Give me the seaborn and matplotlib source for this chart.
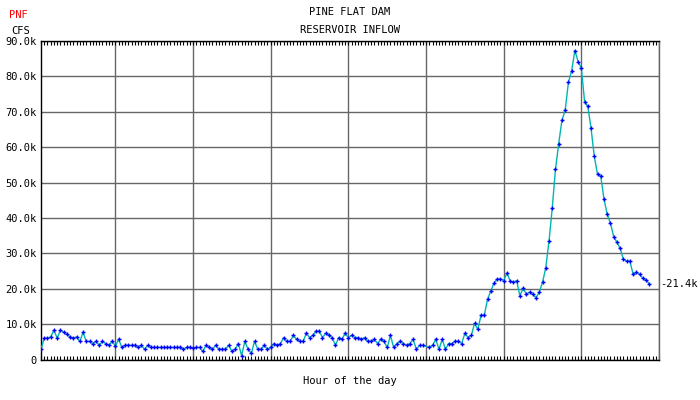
import numpy as np
import pandas as pd
import matplotlib
matplotlib.use("Agg")
import matplotlib.pyplot as plt
import seaborn as sns

# ---- data (hourly reservoir inflow, thousands of cfs) ----
hours = list(range(0, 189))
inflow_k = [
    2.9, 6.0, 6.0, 6.4, 8.3, 6.0, 8.3, 7.7, 7.1, 6.4,
    6.0, 6.4, 5.1, 7.7, 5.1, 5.1, 4.5, 5.1, 4.0, 5.1,
    4.5, 4.0, 5.1, 3.8, 5.7, 3.4, 4.0, 4.0, 4.0, 4.0,
    3.4, 4.0, 2.9, 4.0, 3.4, 3.4, 3.4, 3.4,
    3.4, 3.4, 3.4, 3.4, 3.4, 3.4, 2.9, 3.4, 3.4, 3.2,
    3.4, 3.4, 2.3, 4.0, 3.4, 2.9, 4.0, 2.9, 2.9, 2.9,
    4.0, 2.3, 2.9, 4.5, 1.1, 5.1, 2.9, 1.7, 5.1, 2.9,
    2.9, 4.0, 2.9, 3.4, 4.5, 4.0, 4.5,
    6.2, 5.1, 5.1, 6.8, 5.7, 5.1, 5.1, 7.4, 6.2, 6.8,
    8.0, 8.0, 6.2, 7.4, 6.8, 6.2, 4.0, 6.2, 5.7, 7.4,
    6.2, 6.8, 6.2, 6.2, 5.7, 6.2, 5.1, 5.1, 5.7, 4.5,
    5.7, 5.1, 3.4, 6.8, 3.4, 4.5, 5.1,
    4.5, 4.0, 4.5, 5.7, 2.9, 4.0, 4.0, np.nan,
    3.4, 4.0, 5.7, 2.9, 5.7, 2.9, 4.5, 4.5, 5.1, 5.1,
    4.5, 7.4, 6.2, 6.8, 10.2, 8.5, 12.5, 12.5, 17.0, 19.3,
    21.6, 22.7, 22.7, 22.3, 24.4, 22.2, 21.8, 22.3, 18.0,
    20.1, 18.5, 19.0, 18.4, 17.5, 19.0, 21.8, 25.9, 33.4, 42.7,
    53.7, 61.0, 67.6, 70.4, 78.3, 81.6, 87.3, 84.2, 82.3, 72.9,
    71.5, 65.3, 57.4, 52.3, 51.8, 45.3, 41.0, 38.5, 34.7, 33.1,
    31.4, 28.3, 27.8, 27.8, 24.1, 24.6, 24.1, 22.9, 22.4, 21.4,
]
y_ticks = [0, 10, 20, 30, 40, 50, 60, 70, 80, 90]
y_tick_labels = ["0", "10.0k", "20.0k", "30.0k", "40.0k", "50.0k",
                 "60.0k", "70.0k", "80.0k", "90.0k"]
day_lines = [23, 47, 71, 95, 119, 143, 167, 191]
last_label = "21.4k"

df = pd.DataFrame({"hour": hours, "inflow": inflow_k})

sns.set_theme(style="white")
plt.rcParams["font.family"] = ["DejaVu Sans Mono", "DejaVu Sans"]

fig = plt.figure(figsize=(7, 4), dpi=100)
ax = fig.add_axes([41 / 700, 1 - 359.5 / 400, 618 / 700, 318.5 / 400])

grid_c = "#666666"
sns.lineplot(data=df, x="hour", y="inflow", color="#00B4B4", linewidth=1.0,
             ax=ax, zorder=3)
sns.scatterplot(data=df, x="hour", y="inflow", marker="+", color="#0000FF",
                s=10, linewidth=1.0, ax=ax, zorder=4)

ax.set_xlim(0, 191)
ax.set_ylim(0, 90)
ax.set_xticks(day_lines)
ax.set_xticks(list(range(0, 192)), minor=True)
ax.set_yticks(y_ticks)
ax.set_yticklabels(y_tick_labels, fontsize=7.5, color="black")
ax.set_xticklabels([])
ax.tick_params(axis="x", which="both", direction="in", top=True, bottom=True,
               length=3, width=0.8, color="black", labelbottom=False)
ax.tick_params(axis="y", which="both", length=0, pad=3)
ax.grid(True, which="major", color=grid_c, linewidth=1.0)
ax.set_axisbelow(True)

for s in ["left", "top", "bottom"]:
    ax.spines[s].set_color("black")
    ax.spines[s].set_linewidth(1.0)
ax.spines["right"].set_color(grid_c)
ax.spines["right"].set_linewidth(1.0)

ax.set_xlabel("Hour of the day", fontsize=7.5, labelpad=12, color="black")
ax.set_ylabel("")

ax.text(191.3, inflow_k[-1], "-" + last_label, fontsize=7.5, va="center",
        ha="left", clip_on=False, color="black")

fig.text(350 / 700, 1 - 12 / 400, "PINE FLAT DAM", fontsize=7.5,
         ha="center", va="center", color="black")
fig.text(350 / 700, 1 - 30 / 400, "RESERVOIR INFLOW", fontsize=7.5,
         ha="center", va="center", color="black")
fig.text(9 / 700, 1 - 15 / 400, "PNF", fontsize=7.5, ha="left",
         va="center", color="#FF0000")
fig.text(11 / 700, 1 - 31 / 400, "CFS", fontsize=7.5, ha="left",
         va="center", color="black")

fig.savefig("out.png", dpi=100, facecolor="white")
